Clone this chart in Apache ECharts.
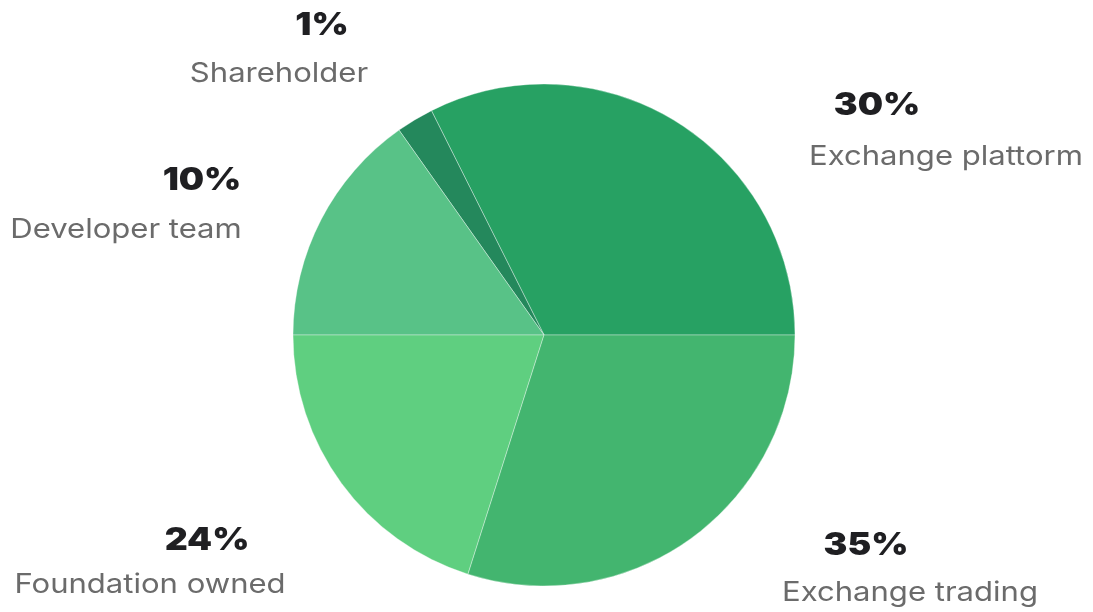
<!DOCTYPE html>
<html>
<head>
<meta charset="utf-8">
<script src="https://cdn.jsdelivr.net/npm/echarts@6/dist/echarts.min.js"></script>
<style>
html,body{margin:0;padding:0;background:#fff;}
#chart{width:1093px;height:612px;}
</style>
</head>
<body>
<div id="chart"></div>
<script>
// Slice categories (counter-clockwise from 3 o'clock)
const categories = ['Exchange plattorm', 'Shareholder', 'Developer team', 'Foundation owned', 'Exchange trading'];
// Slice sizes as drawn in the picture (share of the circle, %)
const sliceValues = [32.4, 2.4, 15.2, 20.1, 29.9];
// Percent labels as printed
const percentLabels = ['30%', '1%', '10%', '24%', '35%'];
const colors = ['#27a163', '#24885c', '#58c287', '#5fcf80', '#43b56f'];

// label anchor positions [pctX, pctY, nameX, nameY]
const labelPos = [
  [877, 106, 946, 157],
  [322, 26, 279, 74],
  [202, 181, 126, 230],
  [207, 541, 150, 585],
  [866, 546, 910, 593]
];

const chart = echarts.init(document.getElementById('chart'));
const graphics = [];
categories.forEach((name, i) => {
  const p = labelPos[i];
  graphics.push({
    type: 'text', x: p[0], y: p[1], scaleX: 1.15,
    style: { text: percentLabels[i], fill: '#1f1f22', font: '900 31px Inter', textAlign: 'center', textVerticalAlign: 'middle' }
  });
  graphics.push({
    type: 'text', x: p[2], y: p[3], scaleX: 1.15,
    style: { text: name, fill: '#6b6b6b', font: '400 27px Inter', textAlign: 'center', textVerticalAlign: 'middle' }
  });
});

chart.setOption({
  animation: false,
  series: [{
    type: 'pie',
    center: [544, 335],
    radius: 251,
    startAngle: 0,
    clockwise: false,
    label: { show: false },
    labelLine: { show: false },
    itemStyle: { borderColor: 'rgba(255,255,255,0.35)', borderWidth: 1 },
    emphasis: { disabled: true },
    data: categories.map((n, i) => ({ name: n, value: sliceValues[i], itemStyle: { color: colors[i] } }))
  }],
  graphic: graphics
});
</script>
</body>
</html>
